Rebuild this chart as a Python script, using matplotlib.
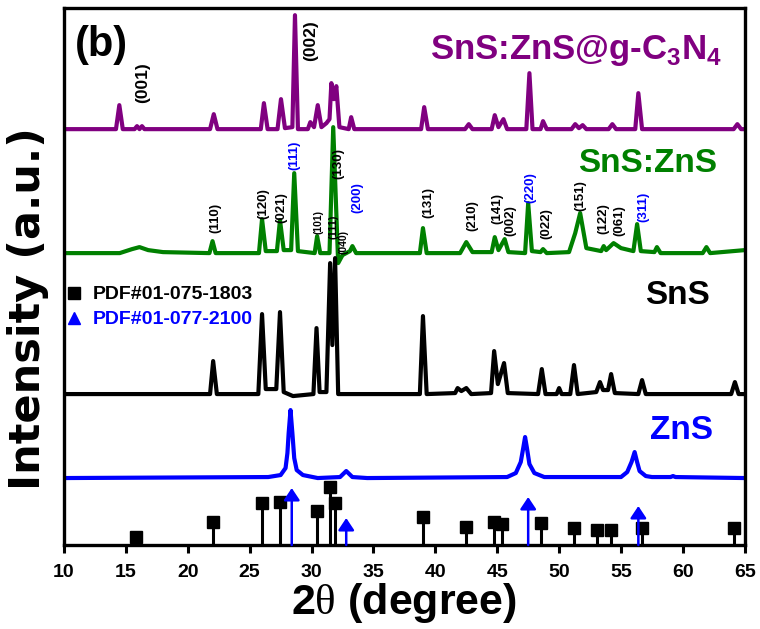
import numpy as np
import matplotlib
matplotlib.use('Agg')
import matplotlib.pyplot as plt
from matplotlib.lines import Line2D

plt.rcParams['font.family'] = ['Liberation Sans', 'DejaVu Sans']
plt.rcParams['mathtext.fontset'] = 'custom'
plt.rcParams['mathtext.rm'] = 'Liberation Serif'
plt.rcParams['mathtext.bf'] = 'Liberation Sans:bold'

# traced patterns: (2theta, counts above own baseline)
cn_trace = [(10, 0), (14.2, 0), (14.47, 24), (14.75, 0), (15.7, 0), (15.9, 3), (16.1, 0), (16.3, 3), (16.5, 0),
            (21.8, 0), (22.1, 15), (22.4, 0), (25.9, 0), (26.15, 26), (26.45, 0), (27.25, 0), (27.53, 30),
            (27.85, 1), (28.45, 2), (28.66, 114), (28.9, 0), (29.7, 0), (29.9, 7), (30.2, 2), (30.5, 24),
            (30.8, 2), (31.2, 6), (31.45, 10), (31.6, 46), (31.8, 30), (32.0, 43), (32.25, 2), (33.0, 0),
            (33.2, 12), (33.45, 0), (38.85, 0), (39.1, 22), (39.4, 0), (42.4, 0), (42.7, 5), (43.0, 0),
            (44.55, 0), (44.8, 14), (45.1, 2), (45.5, 10), (45.8, 0), (47.35, 0), (47.6, 56), (47.85, 0),
            (48.5, 0), (48.7, 8), (49.0, 0), (51.0, 0), (51.3, 5), (51.6, 1), (51.9, 4), (52.2, 0),
            (54.0, 0), (54.3, 5), (54.6, 0), (56.15, 0), (56.4, 36), (56.7, 0), (64.1, 0), (64.4, 5),
            (64.7, 0), (65, 0)]
snszns_trace = [(10, 0), (14.5, 0), (15.5, 4), (16.1, 6), (16.8, 3), (18, 1), (21.75, 0), (22.0, 12), (22.25, 0),
                (25.75, 0), (26.0, 34), (26.3, 2), (27.2, 2), (27.45, 33), (27.75, 3), (28.35, 3), (28.6, 80),
                (28.9, 2), (30.25, 0), (30.45, 17), (30.7, 0), (31.45, 0), (31.75, 126), (32.0, 40),
                (32.15, -10), (32.5, -2), (33.1, 2), (33.3, 7), (33.6, 0), (38.75, 0), (39.0, 25), (39.3, 0),
                (42.0, 0), (42.5, 11), (43.0, 1), (44.55, 1), (44.8, 16), (45.1, 3), (45.6, 14), (45.9, 1),
                (47.25, 0), (47.5, 50), (47.8, 2), (48.5, 1), (48.7, 4), (49.0, 0), (50.8, 1), (51.3, 20),
                (51.7, 40), (52.2, 5), (53.4, 2), (53.6, 7), (53.8, 3), (54.4, 10), (55.0, 5), (56.0, 2),
                (56.3, 29), (56.6, 2), (57.7, 1), (57.9, 6), (58.2, 0), (61.6, 0), (61.9, 6), (62.2, 0), (65, 3)]
sns_trace = [(10, 0), (21.8, 0), (22.05, 33), (22.35, 0), (25.7, 0), (26.0, 80), (26.3, 5), (27.15, 5),
             (27.45, 82), (27.75, 2), (28.5, -2), (30.15, 0), (30.4, 66), (30.65, 2), (31.2, 2), (31.5, 131),
             (31.68, 49), (31.9, 136), (32.15, 0), (38.75, 0), (39.0, 78), (39.3, 0), (41.6, 1), (41.8, 6),
             (42.1, 3), (42.5, 6), (42.9, 0), (44.5, 1), (44.75, 43), (45.05, 10), (45.55, 31), (45.85, 1),
             (48.3, 0), (48.6, 25), (48.9, 0), (49.8, 0), (50.0, 6), (50.2, 0), (50.9, 0), (51.2, 29),
             (51.5, 0), (53.0, 2), (53.3, 12), (53.55, 4), (53.95, 4), (54.2, 20), (54.5, 1), (56.4, 0),
             (56.7, 14), (57.0, 0), (63.9, 0), (64.2, 12), (64.5, 0), (65, 0)]
zns_trace = [(10, 0), (26.5, 1), (27.5, 3), (27.9, 10), (28.05, 25), (28.15, 45), (28.3, 68), (28.45, 45),
             (28.6, 20), (28.8, 8), (29.3, 3), (30.5, 0), (32.3, 1), (32.8, 7), (33.3, 1), (34.5, 0),
             (45.8, 1), (46.5, 5), (46.9, 16), (47.1, 30), (47.25, 41), (47.4, 30), (47.6, 14), (48.0, 5),
             (48.8, 1), (55.0, 1), (55.5, 6), (55.85, 16), (56.1, 26), (56.3, 16), (56.5, 7), (57.0, 2),
             (57.5, 1), (59.0, 1), (59.2, 2), (59.4, 1), (65, 0)]

# reference patterns
pdf_sns_pos = [15.8, 22.0, 25.97, 27.45, 30.4, 31.5, 31.9, 39.0, 42.45, 44.7, 45.4, 48.5, 51.2, 53.1, 54.2, 56.7, 64.15]
pdf_sns_int = [8, 23, 42, 43, 34, 58, 42, 28, 18, 23, 21, 22, 17, 15, 15, 17, 17]
pdf_zns_pos = [28.4, 32.8, 47.5, 56.4]
pdf_zns_int = [57, 27, 48, 39]

# hkl labels: text, 2theta, height, colour, size
hkl = [('(001)', 16.38, 463, 'k', 12.5), ('(002)', 29.9, 505, 'k', 12.5),
       ('(110)', 22.2, 327, 'k', 9.5), ('(120)', 26.07, 342, 'k', 9.5), ('(021)', 27.53, 338, 'k', 9.5),
       ('(111)', 28.58, 390, 'blue', 9.5), ('(101)', 30.6, 323, 'k', 7.5), ('(111)', 31.8, 318, 'k', 8),
       ('(130)', 32.13, 382, 'k', 9.5), ('(040)', 32.6, 303, 'k', 7.5), ('(200)', 33.67, 348, 'blue', 9.5),
       ('(131)', 39.4, 343, 'k', 9.5), ('(210)', 42.96, 330, 'k', 9.5), ('(141)', 44.98, 337, 'k', 9.5),
       ('(002)', 46.03, 325, 'k', 9.5), ('(220)', 47.64, 358, 'blue', 9.5), ('(022)', 49.0, 322, 'k', 9.5),
       ('(151)', 51.68, 350, 'k', 9.5), ('(122)', 53.54, 327, 'k', 9.5), ('(061)', 54.9, 325, 'k', 9.5),
       ('(311)', 56.77, 338, 'blue', 9.5)]

fig = plt.figure(figsize=(7.6, 6.29), dpi=100)
ax = fig.add_axes([0.0842, 0.1335, 0.8958, 0.8535])

patterns = [(cn_trace, 416, '#800080'), (snszns_trace, 292, '#008000'),
            (sns_trace, 151, 'black'), (zns_trace, 67, '#0000FF')]
for trace, off, col in patterns:
    xs, ys = zip(*trace)
    ax.plot(xs, np.array(ys) + off, color=col, lw=3.0, solid_joinstyle='round')

ax.vlines(pdf_sns_pos, 0, pdf_sns_int, color='k', lw=2.2)
ax.plot(pdf_sns_pos, pdf_sns_int, 's', color='k', ms=8)
for p, h in zip(pdf_zns_pos, pdf_zns_int):
    ax.annotate('', xy=(p, h), xytext=(p, 0),
                arrowprops=dict(arrowstyle='-|>,head_length=0.36,head_width=0.24',
                                color='#0000FF', lw=1.8, shrinkA=0, shrinkB=0, mutation_scale=20))

for t, x, y, c, s in hkl:
    ax.text(x, y, t, rotation=90, ha='center', va='center', color=c, fontsize=s, fontweight='bold')

ax.text(10.9, 500, '(b)', fontsize=30, fontweight='bold', ha='left', va='center')
ax.text(63.2, 495, r'SnS:ZnS@g-C$_\mathbf{3}$N$_\mathbf{4}$', color='#800080', fontsize=25,
        fontweight='bold', ha='right', va='center')
ax.text(62.8, 382, 'SnS:ZnS', color='#008000', fontsize=24, fontweight='bold', ha='right', va='center')
ax.text(62.2, 250, 'SnS', color='black', fontsize=24, fontweight='bold', ha='right', va='center')
ax.text(62.4, 115, 'ZnS', color='#0000FF', fontsize=24, fontweight='bold', ha='right', va='center')

handles = [Line2D([], [], marker='s', color='k', ls='none', ms=8),
           Line2D([], [], marker='^', color='#0000FF', ls='none', ms=9)]
ax.legend(handles, ['PDF#01-075-1803', 'PDF#01-077-2100'], loc='upper left',
          bbox_to_anchor=(0.0, 0.483), frameon=False, borderpad=0, borderaxespad=0,
          handlelength=1.0, handletextpad=0.5, labelspacing=0.38,
          labelcolor=['black', '#0000FF'], prop={'weight': 'bold', 'size': 14})

ax.set_xlim(10, 65)
ax.set_ylim(0, 537)
ax.set_xticks(np.arange(10, 66, 5))
ax.set_yticks([])
ax.tick_params(axis='x', direction='out', length=6, width=2.2, pad=8, labelsize=14)
for lab in ax.get_xticklabels():
    lab.set_fontweight('bold')
for sp in ax.spines.values():
    sp.set_linewidth(2.4)

ax.set_xlabel(r'2$\mathrm{\theta}$ (degree)', fontsize=31, fontweight='bold', labelpad=0)
ax.set_ylabel('Intensity (a.u.)', fontsize=31, fontweight='bold', family='DejaVu Sans')
ax.yaxis.set_label_coords(-0.022, 0.44)

fig.savefig('out.png', dpi=100)
